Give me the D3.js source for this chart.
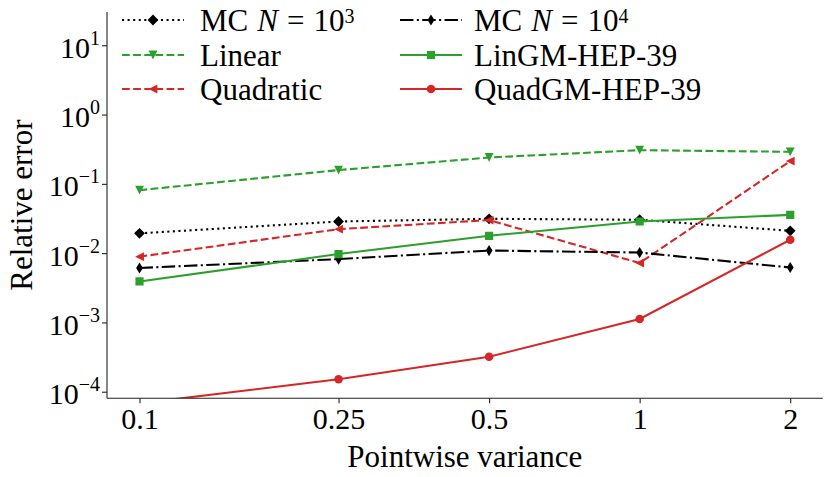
<!DOCTYPE html>
<html>
<head>
<meta charset="utf-8">
<script src="https://cdn.jsdelivr.net/npm/d3@7"></script>
<style>
  body { margin: 0; background: #fff; }
  svg text { font-family: "Liberation Serif", "DejaVu Serif", serif; fill: #000; }
</style>
</head>
<body>
<div id="chart"></div>
<script>
// values
const variance = [0.1, 0.25, 0.5, 1, 2];
const varianceLabels = ["0.1", "0.25", "0.5", "1", "2"];
const errorTicks = [1e-4, 1e-3, 1e-2, 1e-1, 1e0, 1e1];
const errorTickExp = ["\u22124", "\u22123", "\u22122", "\u22121", "0", "1"];

const mc1e3 = [0.0193, 0.0286, 0.0313, 0.0303, 0.0210];
const mc1e4 = [0.0061, 0.0082, 0.0109, 0.0102, 0.0062];
const linear = [0.081, 0.158, 0.240, 0.306, 0.290];
const quadratic = [0.0089, 0.0222, 0.0300, 0.0072, 0.213];
const linGM = [0.0039, 0.0097, 0.0178, 0.0286, 0.0357];
const quadGM = [0.000068, 0.000151, 0.00032, 0.00112, 0.0156];

const width = 831, height = 477;
const plotL = 107, plotR = 822.7, plotT = 12, plotB = 398.3;
const lw = 2.1;

const svg = d3.select("#chart").append("svg")
    .attr("width", width)
    .attr("height", height);

const xScale = d3.scaleLog()
    .domain([Math.pow(10, -1.065), Math.pow(10, 0.366)])
    .range([plotL, plotR]);
const yScale = d3.scaleLog()
    .domain([Math.pow(10, -4.095), Math.pow(10, 1.48)])
    .range([plotB, plotT]);

// marker shapes, centred on 0,0
function marker(kind) {
    const p = d3.path();
    if (kind == "D") {
        const r = 5.4;
        p.moveTo(0, -r); p.lineTo(r, 0); p.lineTo(0, r); p.lineTo(-r, 0);
    } else if (kind == "d") {
        const r = 5.6, w = 3.4;
        p.moveTo(0, -r); p.lineTo(w, 0); p.lineTo(0, r); p.lineTo(-w, 0);
    } else if (kind == "v") {
        const r = 4.4;
        p.moveTo(-r, -r); p.lineTo(r, -r); p.lineTo(0, r);
    } else if (kind == "<") {
        const r = 4.4;
        p.moveTo(-r, 0); p.lineTo(r, -r); p.lineTo(r, r);
    } else if (kind == "s") {
        const r = 4.1;
        p.rect(-r, -r, 2 * r, 2 * r);
    } else {
        p.arc(0, 0, 4.3, 0, 2 * Math.PI);
    }
    p.closePath();
    return p.toString();
}

const dotted = [lw * 1, lw * 1.65].join(" ");
const dashed = [lw * 3.7, lw * 1.6].join(" ");
const dashdot = [lw * 6.4, lw * 1.6, lw * 1, lw * 1.6].join(" ");

const series = [
    { name: "MC N3", values: mc1e3, color: "#000", dash: dotted, mark: "D" },
    { name: "Linear", values: linear, color: "#2ca02c", dash: dashed, mark: "v" },
    { name: "Quadratic", values: quadratic, color: "#d62728", dash: dashed, mark: "<" },
    { name: "MC N4", values: mc1e4, color: "#000", dash: dashdot, mark: "d" },
    { name: "LinGM-HEP-39", values: linGM, color: "#2ca02c", dash: null, mark: "s" },
    { name: "QuadGM-HEP-39", values: quadGM, color: "#d62728", dash: null, mark: "o" }
];

svg.append("clipPath").attr("id", "plotclip")
    .append("rect")
    .attr("x", plotL).attr("y", plotT)
    .attr("width", plotR - plotL).attr("height", plotB - plotT);

const line = d3.line()
    .x(function (d, i) { return xScale(variance[i]); })
    .y(function (d) { return yScale(d); });

const plot = svg.append("g").attr("clip-path", "url(#plotclip)");

series.forEach(function (s) {
    const g = plot.append("g");
    g.append("path")
        .attr("d", line(s.values))
        .attr("fill", "none")
        .attr("stroke", s.color)
        .attr("stroke-width", lw)
        .attr("stroke-dasharray", s.dash);
    g.selectAll("path.mk")
        .data(s.values)
        .enter()
        .append("path")
        .attr("class", "mk")
        .attr("transform", function (d, i) {
            return "translate(" + xScale(variance[i]) + "," + yScale(d) + ")";
        })
        .attr("d", marker(s.mark))
        .attr("fill", s.color);
});

// axes
const xAxis = d3.axisBottom(xScale)
    .tickValues(variance)
    .tickFormat(function (d, i) { return varianceLabels[i]; })
    .tickSize(5)
    .tickPadding(6);
const yAxis = d3.axisLeft(yScale)
    .tickValues(errorTicks)
    .tickFormat("")
    .tickSize(5);

const gx = svg.append("g")
    .attr("transform", "translate(0," + plotB + ")")
    .call(xAxis);
gx.select(".domain").attr("d", "M" + plotL + ",0H" + plotR);
gx.selectAll("text").style("font-size", "30px").attr("dy", "0.66em");

const gy = svg.append("g")
    .attr("transform", "translate(" + plotL + ",0)")
    .call(yAxis);
gy.select(".domain").attr("d", "M0," + plotT + "V" + plotB);

svg.selectAll(".domain, .tick line").attr("stroke", "#222").attr("stroke-width", 1.1);

// y tick labels as 10 with a superscript
gy.selectAll(".tick").each(function (d, i) {
    const t = d3.select(this).append("text")
        .attr("x", -7)
        .attr("y", 0)
        .attr("dy", "0.4em")
        .attr("text-anchor", "end")
        .style("font-size", "30px");
    t.append("tspan").text("10");
    t.append("tspan")
        .attr("dy", "-0.65em")
        .style("font-size", "20px")
        .text(errorTickExp[i]);
});

svg.append("text")
    .attr("transform", "translate(32," + ((plotT + plotB) / 2) + ") rotate(-90)")
    .attr("text-anchor", "middle")
    .style("font-size", "31px")
    .text("Relative error");

svg.append("text")
    .attr("x", (plotL + plotR) / 2)
    .attr("y", 467)
    .attr("text-anchor", "middle")
    .style("font-size", "31px")
    .text("Pointwise variance");

// legend, two columns of three
const legendX = [122, 400];
const legendY = [20, 55, 89];
const handleW = 62;

series.forEach(function (s, k) {
    const col = Math.floor(k / 3), row = k % 3;
    const g = svg.append("g")
        .attr("transform", "translate(" + legendX[col] + "," + legendY[row] + ")");
    g.append("line")
        .attr("x1", 0).attr("x2", handleW)
        .attr("y1", 0).attr("y2", 0)
        .attr("stroke", s.color)
        .attr("stroke-width", lw)
        .attr("stroke-dasharray", s.dash);
    g.append("path")
        .attr("transform", "translate(" + handleW / 2 + ",0)")
        .attr("d", marker(s.mark))
        .attr("fill", s.color);
    const t = g.append("text")
        .attr("x", col == 0 ? handleW + 16 : handleW + 12)
        .attr("y", 11)
        .style("font-size", "31px");
    if (s.name.indexOf("MC") == 0) {
        t.append("tspan").text("MC");
        t.append("tspan").attr("dx", 9).style("font-style", "italic").text("N");
        t.append("tspan").attr("dx", 9).text("=");
        t.append("tspan").attr("dx", 9).text("10");
        t.append("tspan")
            .attr("dy", "-0.4em")
            .style("font-size", "20px")
            .text(s.name == "MC N3" ? "3" : "4");
    } else {
        t.text(s.name);
    }
});
</script>
</body>
</html>
